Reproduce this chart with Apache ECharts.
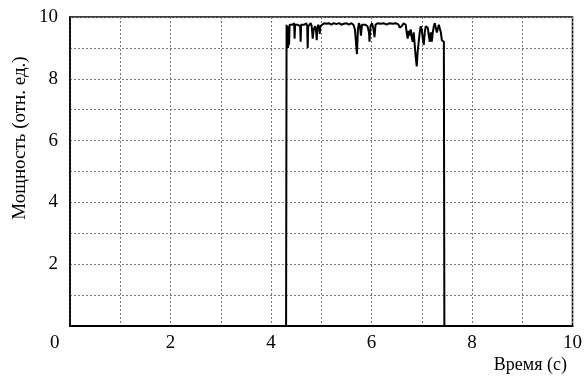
<!DOCTYPE html>
<html>
<head>
<meta charset="utf-8">
<script src="https://cdn.jsdelivr.net/npm/echarts@6/dist/echarts.min.js"></script>
<style>html,body{margin:0;padding:0;background:#fff;}#c{width:585px;height:378px;}</style>
</head>
<body>
<div id="c"></div>
<script>
const times = [0, 4.30, 4.31, 4.32, 4.33, 4.34, 4.35, 4.36, 4.37, 4.38, 4.40, 4.42, 4.44, 4.46, 4.47, 4.48, 4.50, 4.53, 4.56, 4.58, 4.59, 4.60, 4.63, 4.66, 4.70, 4.72, 4.73, 4.74, 4.76, 4.79, 4.81, 4.83, 4.85, 4.88, 4.90, 4.91, 4.92, 4.94, 4.96, 4.97, 4.98, 5.02, 5.06, 5.10, 5.15, 5.20, 5.25, 5.30, 5.35, 5.40, 5.45, 5.50, 5.55, 5.60, 5.64, 5.67, 5.69, 5.71, 5.73, 5.75, 5.77, 5.79, 5.81, 5.84, 5.88, 5.92, 5.95, 5.96, 5.98, 6.01, 6.04, 6.06, 6.08, 6.12, 6.18, 6.24, 6.30, 6.36, 6.42, 6.48, 6.54, 6.56, 6.60, 6.64, 6.68, 6.70, 6.72, 6.74, 6.76, 6.78, 6.80, 6.82, 6.84, 6.86, 6.88, 6.90, 6.92, 6.94, 6.96, 6.98, 7.00, 7.02, 7.04, 7.06, 7.08, 7.10, 7.12, 7.14, 7.16, 7.18, 7.20, 7.22, 7.24, 7.26, 7.30, 7.34, 7.36, 7.38, 7.40, 7.42, 7.44, 7.445, 7.45, 10];
const power = [0, 0, 9.75, 9.2, 9.7, 9.0, 9.6, 9.1, 9.75, 9.7, 9.8, 9.75, 9.7, 9.8, 9.3, 9.75, 9.8, 9.75, 9.8, 9.7, 9.2, 9.75, 9.8, 9.75, 9.8, 9.7, 9.0, 9.7, 9.75, 9.8, 9.7, 9.3, 9.6, 9.7, 9.5, 9.25, 9.6, 9.75, 9.6, 9.45, 9.7, 9.75, 9.8, 9.78, 9.8, 9.75, 9.8, 9.77, 9.8, 9.75, 9.78, 9.8, 9.75, 9.8, 9.75, 9.6, 9.2, 8.8, 9.6, 9.8, 9.7, 9.4, 9.75, 9.8, 9.75, 9.7, 9.5, 9.2, 9.7, 9.8, 9.6, 9.35, 9.75, 9.8, 9.78, 9.8, 9.75, 9.8, 9.78, 9.8, 9.75, 9.65, 9.7, 9.8, 9.75, 9.5, 9.3, 9.55, 9.4, 9.6, 9.35, 9.2, 9.5, 9.1, 8.7, 8.4, 8.9, 9.2, 9.5, 9.7, 9.6, 9.3, 9.1, 9.5, 9.7, 9.75, 9.65, 9.4, 9.2, 9.5, 9.2, 9.5, 9.7, 9.8, 9.5, 9.75, 9.8, 9.5, 9.25, 9.3, 9.2, 4.6, 0, 0];
const xTickLabels = ['2', '4', '6', '8', '10'];
const yTickLabels = ['2', '4', '6', '8', '10'];
const xName = 'Время (с)';
const yName = 'Мощность (отн. ед.)';
const originLabel = '0';

const FONT = 'Liberation Serif';
const chart = echarts.init(document.getElementById('c'), null, {renderer: 'canvas'});
const gridLine = {show: true, lineStyle: {color: '#777', width: 1, type: [2, 2]}};
chart.setOption({
  animation: false,
  backgroundColor: '#fff',
  grid: {left: 70, right: 12, top: 17, bottom: 52, show: true, borderColor: '#000', borderWidth: 1.5},
  xAxis: {
    type: 'value', min: 0, max: 10, interval: 1,
    axisLine: {show: true, lineStyle: {color: '#000', width: 2}},
    axisTick: {show: false},
    splitLine: gridLine,
    axisLabel: {
      color: '#000', fontFamily: FONT, fontSize: 19, margin: 8,
      formatter: v => xTickLabels.includes(String(v)) ? String(v) : ''
    }
  },
  yAxis: {
    type: 'value', min: 0, max: 10, interval: 1,
    axisLine: {show: true, lineStyle: {color: '#000', width: 1.5}},
    axisTick: {show: false},
    splitLine: gridLine,
    axisLabel: {
      color: '#000', fontFamily: FONT, fontSize: 19, margin: 12,
      formatter: v => yTickLabels.includes(String(v)) ? String(v) : ''
    }
  },
  graphic: [
    {type: 'text', left: 50, top: 334, style: {text: originLabel, fontFamily: FONT, fontSize: 19, fill: '#000'}},
    {type: 'text', right: 18, top: 356, style: {text: xName, fontFamily: FONT, fontSize: 18, fill: '#000'}},
    {type: 'text', x: 20, y: 138, rotation: Math.PI / 2, style: {text: yName, fontFamily: FONT, fontSize: 19, fill: '#000', align: 'center', verticalAlign: 'middle'}}
  ],
  series: [{
    type: 'line',
    data: times.map((t, i) => [t, power[i]]),
    showSymbol: false,
    lineStyle: {color: '#000', width: 2},
    z: 5
  }]
});
</script>
</body>
</html>
